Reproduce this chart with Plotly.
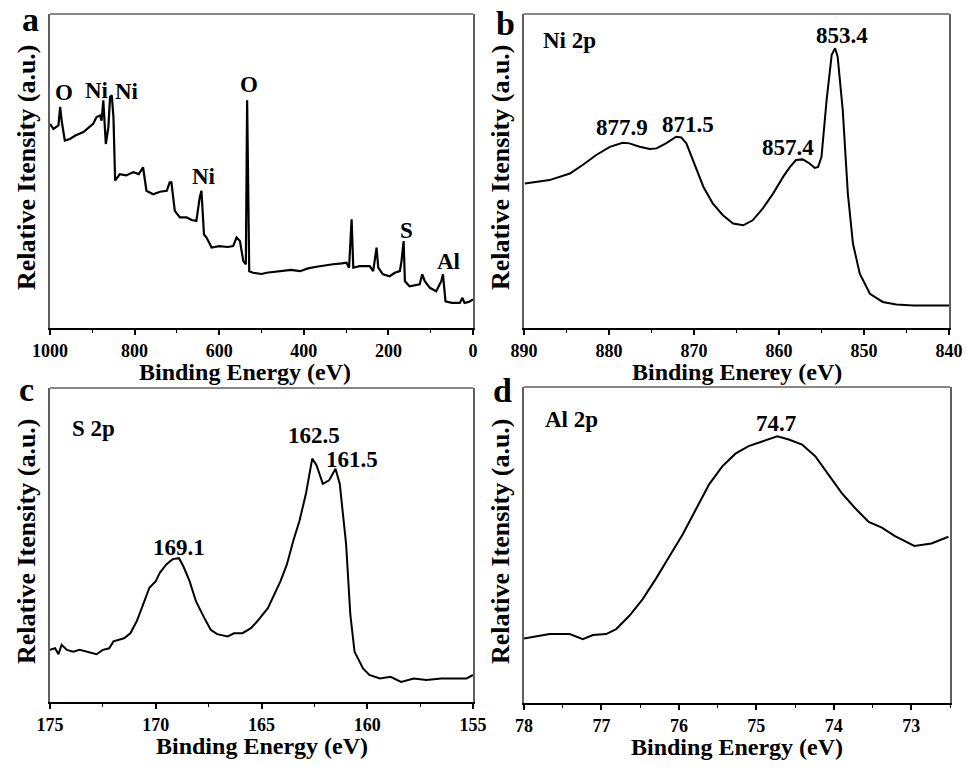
import plotly.graph_objects as go

# ---------------- data ----------------
# (a) survey spectrum
survey_be = [1000, 992, 980, 976, 972, 965, 953, 940, 921, 910, 898, 890, 882, 878, 874, 868,
             862, 858, 854, 850, 846, 835, 820, 803, 790, 780, 772, 756, 740, 724, 717, 713,
             705, 693, 677, 665, 654, 646, 642, 636, 630, 618, 600, 580, 567, 559, 551, 543,
             537, 534, 529, 520, 500, 488, 470, 450, 430, 409, 390, 370, 350, 331, 310, 299,
             293, 287, 283, 268, 244, 236, 228, 224, 213, 197, 185, 173, 169, 164, 161, 150,
             126, 120, 114, 102, 87, 75, 71, 65, 50, 31, 25, 20, 10, 0]
survey_int = [65.0, 63.4, 64.5, 70.4, 65.6, 59.7, 60.2, 61.3, 62.4, 63.6, 65.0, 67.2, 67.7, 66.0, 72.5, 58.6,
              64.0, 73.6, 74.1, 67.2, 46.9, 49.0, 48.6, 49.6, 49.0, 51.2, 43.7, 42.6, 43.4, 43.7, 46.4, 46.4,
              37.3, 35.2, 35.2, 34.4, 34.1, 41.6, 43.7, 29.8, 28.8, 25.6, 26.1, 25.8, 26.1, 28.8, 27.7, 21.3,
              20.3, 72.5, 18.1, 17.6, 17.2, 17.6, 17.9, 18.1, 18.5, 18.1, 19.0, 19.5, 20.0, 20.3, 20.6, 20.8,
              19.2, 34.6, 19.2, 19.7, 19.7, 18.1, 25.6, 19.2, 17.1, 16.5, 17.6, 18.1, 21.3, 27.7, 14.9, 13.3,
              13.9, 17.1, 14.9, 12.8, 11.7, 14.9, 17.1, 8.5, 8.0, 8.0, 9.6, 8.0, 8.3, 9.1]

# (b) Ni 2p
ni_be = [889.9, 887.0, 884.6, 883.1, 881.5, 879.9, 878.4, 877.6, 876.4, 875.2, 874.4, 873.3, 872.1,
         871.5, 870.9, 870.1, 868.9, 867.8, 866.6, 865.4, 864.2, 863.1, 861.9, 860.7, 859.5, 858.7,
         858.0, 857.2, 856.4, 855.8, 855.4, 855.0, 854.4, 853.8, 853.4, 853.1, 852.5, 851.9, 851.3,
         850.5, 849.3, 847.8, 846.2, 844.2, 840.0]
ni_int = [46.0, 47.1, 49.2, 51.9, 55.1, 57.7, 59.0, 58.8, 57.7, 57.0, 57.2, 58.8, 60.9,
          60.7, 58.8, 53.5, 45.0, 39.7, 35.9, 33.3, 32.7, 34.3, 38.1, 42.8, 48.2, 51.3,
          53.5, 53.7, 52.4, 51.0, 51.3, 54.5, 72.6, 87.0, 89.1, 86.4, 69.4, 42.8, 26.9,
          17.3, 10.9, 8.3, 7.5, 7.2, 7.2]

# (c) S 2p
s_be = [175.0, 174.76, 174.6, 174.45, 174.2, 173.9, 173.6, 173.4, 173.1, 172.8, 172.5, 172.2, 172.0,
        171.5, 171.2, 170.9, 170.6, 170.3, 170.0, 169.8, 169.5, 169.2, 168.9, 168.7, 168.4, 168.1,
        167.7, 167.4, 167.1, 166.6, 166.3, 165.9, 165.5, 165.2, 164.7, 164.4, 164.1, 163.8, 163.5,
        163.2, 162.9, 162.7, 162.6, 162.4, 162.1, 161.8, 161.5, 161.3, 161.0, 160.8, 160.6, 160.2,
        159.9, 159.4, 158.9, 158.4, 157.8, 157.2, 156.5, 155.9, 155.3, 155.0]
s_int = [16.6, 17.1, 15.2, 18.2, 16.6, 16.0, 16.6, 16.3, 15.8, 15.2, 16.6, 17.1, 19.3,
         20.3, 21.9, 25.7, 31.0, 36.4, 38.5, 41.2, 43.8, 45.5, 45.8, 43.3, 38.5, 32.1,
         26.7, 23.0, 21.6, 20.9, 21.9, 21.9, 23.5, 25.7, 29.9, 34.2, 38.5, 43.8, 51.3,
         57.8, 66.3, 73.8, 77.5, 75.4, 69.5, 70.6, 74.3, 69.5, 50.3, 27.8, 16.0, 10.7,
         8.6, 7.5, 8.0, 6.4, 7.5, 7.0, 7.5, 7.5, 7.5, 8.6]

# (d) Al 2p
al_be = [78.0, 77.84, 77.67, 77.41, 77.24, 77.11, 76.94, 76.81, 76.64, 76.47, 76.30, 76.12, 75.95,
         75.78, 75.61, 75.44, 75.27, 75.10, 74.93, 74.73, 74.58, 74.41, 74.24, 74.07, 73.90, 73.73,
         73.55, 73.38, 73.21, 72.96, 72.74, 72.52]
al_int = [20.4, 21.1, 21.8, 21.8, 20.2, 21.5, 21.8, 23.4, 27.6, 32.8, 39.2, 46.5, 53.4,
          61.3, 69.2, 74.9, 78.9, 81.3, 82.8, 84.4, 83.4, 81.8, 78.1, 72.3, 66.5, 61.8,
          57.3, 55.5, 52.8, 49.7, 50.5, 52.6]

# peak labels: (text, x, y)
survey_labels = [("O", 967, 74.9), ("Ni", 888, 75.5), ("Ni", 817, 75.2), ("O", 529, 77.6),
                 ("Ni", 635, 48.3), ("S", 157, 30.9), ("Al", 59, 21.3)]
ni_labels = [("877.9", 878.5, 63.9), ("871.5", 870.7, 64.9), ("857.4", 858.9, 57.5), ("853.4", 852.6, 93.3)]
s_labels = [("162.5", 162.5, 84.8), ("161.5", 160.7, 77.3), ("169.1", 168.9, 49.2)]
al_labels = [("74.7", 74.75, 88.4)]
inset_titles = [("Ni 2p", 888.0, 91.5, "2"), ("S 2p", 174.05, 87.2, "3"), ("Al 2p", 77.75, 89.7, "4")]

x_ranges = [[1000, 0], [890, 840], [175, 155], [78, 72.5]]
x_dticks = [200, 10, 5, 1]
x_titles = ["Binding Energy (eV)", "Binding Enerey (eV)", "Binding Energy (eV)", "Binding Energy (eV)"]
y_title = "Relative Itensity (a.u.)"
panel_letters = ["a", "b", "c", "d"]

# ---------------- figure ----------------
W, H = 966, 767
FONT = "Liberation Serif"


def px_x(p):
    return p / W


def px_y(p):
    return 1 - p / H


# plot-area boxes in window pixels (left, right, top, bottom)
boxes = [(50, 473, 14, 328), (524, 949, 14, 328), (50, 473, 388, 702), (524, 950, 387, 703)]
title_cx = [245, 737, 262, 737]
letter_pos = [(30, 20), (505, 24), (26, 389), (503, 391)]

fig = go.Figure()
series = [(survey_be, survey_int), (ni_be, ni_int), (s_be, s_int), (al_be, al_int)]
for i, (xs, ys) in enumerate(series):
    sfx = "" if i == 0 else str(i + 1)
    fig.add_trace(go.Scatter(x=xs, y=ys, mode="lines", xaxis="x" + sfx, yaxis="y" + sfx,
                             line=dict(color="black", width=2.2 if i == 0 else 2), showlegend=False,
                             hoverinfo="skip"))

layout = dict(width=W, height=H, margin=dict(l=0, r=0, t=0, b=0, autoexpand=False),
              paper_bgcolor="white", plot_bgcolor="white",
              font=dict(family=FONT, color="black", size=18, weight="bold"),
              showlegend=False)
annotations = []
shapes = []
frame_col = "#606060"
for i, (l, r, t, b) in enumerate(boxes):
    sfx = "" if i == 0 else str(i + 1)
    layout["xaxis" + sfx] = dict(
        domain=[px_x(l), px_x(r)], anchor="y" + sfx, range=x_ranges[i], dtick=x_dticks[i],
        automargin=False,
        showline=True, linecolor="black", linewidth=2, mirror=False,
        ticks="outside", ticklen=5, tickwidth=1.5, tickcolor="black",
        minor=dict(ticks="outside", ticklen=3, tickwidth=1.2, tickcolor="black", dtick=x_dticks[i] / 2),
        showgrid=False, zeroline=False,
        tickfont=dict(family=FONT, size=18, weight="bold", color="black"))
    layout["yaxis" + sfx] = dict(
        domain=[px_y(b), px_y(t)], anchor="x" + sfx, range=[0, 100], automargin=False,
        showline=True, linecolor=frame_col, linewidth=1.5, mirror=True,
        showticklabels=False, ticks="", showgrid=False, zeroline=False)
    # top frame line
    shapes.append(dict(type="line", xref="x" + sfx + " domain", yref="y" + sfx + " domain",
                       x0=0, x1=1, y0=1, y1=1, line=dict(color=frame_col, width=1.5)))
    # axis titles
    annotations.append(dict(text=x_titles[i], xref="paper", yref="paper",
                            x=px_x(title_cx[i]), y=px_y(b + 44),
                            showarrow=False, xanchor="center", yanchor="middle",
                            font=dict(family=FONT, size=24, weight="bold")))
    annotations.append(dict(text=y_title, xref="paper", yref="paper",
                            x=px_x(l - 24), y=px_y((t + b) / 2 - 4), textangle=-90,
                            showarrow=False, xanchor="center", yanchor="middle",
                            font=dict(family=FONT, size=26, weight="bold")))

for (px, py), letter in zip(letter_pos, panel_letters):
    annotations.append(dict(text=letter, xref="paper", yref="paper", x=px_x(px), y=px_y(py),
                            showarrow=False, xanchor="center", yanchor="middle",
                            font=dict(family=FONT, size=34, weight="bold")))

for sfx, labs in [("", survey_labels), ("2", ni_labels), ("3", s_labels), ("4", al_labels)]:
    for txt, x, y in labs:
        annotations.append(dict(text=txt, xref="x" + sfx, yref="y" + sfx, x=x, y=y,
                                showarrow=False, xanchor="center", yanchor="middle",
                                font=dict(family=FONT, size=23, weight="bold")))
for txt, x, y, sfx in inset_titles:
    annotations.append(dict(text=txt, xref="x" + sfx, yref="y" + sfx, x=x, y=y,
                            showarrow=False, xanchor="left", yanchor="middle",
                            font=dict(family=FONT, size=23, weight="bold")))

layout["annotations"] = annotations
layout["shapes"] = shapes
fig.update_layout(**layout)
# remove the browser's default 8px page margin so the figure fills the window exactly
fig.write_html("out.html", config={"displayModeBar": False},
               post_script="document.body.style.margin='0px';")
